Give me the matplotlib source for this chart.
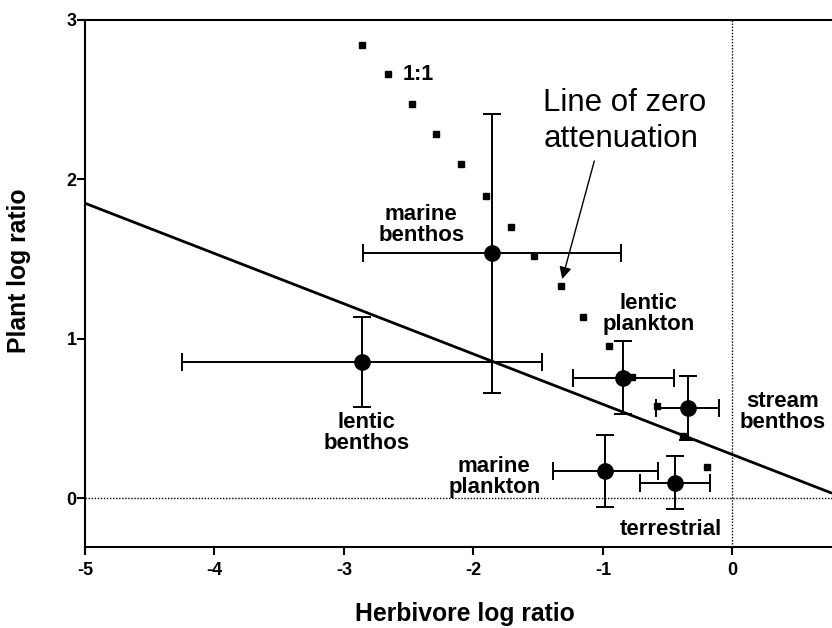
import matplotlib
matplotlib.use("Agg")
import matplotlib.pyplot as plt

plt.rcParams['font.family'] = ['Liberation Sans', 'DejaVu Sans']

# Group means and error half-widths (log ratios)
groups = ['marine\nbenthos', 'lentic\nbenthos', 'lentic\nplankton',
          'stream\nbenthos', 'marine\nplankton', 'terrestrial']
herb_mean = [-1.856, -2.859, -0.844, -0.346, -0.981, -0.443]
herb_err = [0.996, 1.389, 0.390, 0.246, 0.404, 0.273]
plant_mean = [1.536, 0.853, 0.756, 0.566, 0.169, 0.096]
plant_err = [0.875, 0.284, 0.231, 0.202, 0.227, 0.167]

# Group label anchor positions (data coordinates)
label_x = [-2.403, -2.828, -0.649, 0.386, -1.839, -0.471]
label_y = [1.713, 0.408, 1.155, 0.540, 0.132, -0.200]

# Dotted 1:1 reference
one_x = [-2.859, -2.658, -2.473, -2.287, -2.094, -1.901, -1.708, -1.530,
         -1.321, -1.151, -0.951, -0.773, -0.580, -0.379, -0.193]
one_y = [2.843, 2.661, 2.473, 2.285, 2.096, 1.895, 1.701, 1.519,
         1.331, 1.136, 0.954, 0.759, 0.577, 0.389, 0.195]

# Fitted line endpoints
fit_x = [-5.0, 0.77]
fit_y = [1.85, 0.03]

x_ticks = [-5, -4, -3, -2, -1, 0]
y_ticks = [0, 1, 2, 3]

fig = plt.figure(figsize=(8.32, 6.28), dpi=100)
ax = fig.add_axes([85 / 832, 81 / 628, 747 / 832, 527 / 628])
ax.set_xlim(-5, 0.77)
ax.set_ylim(-0.3075, 3)

# Zero reference lines
ax.axhline(0, color='black', lw=1.0, ls=(0, (1, 1.2)), zorder=1)
ax.axvline(0, color='black', lw=1.0, ls=(0, (1, 1.2)), zorder=1)

ax.plot(fit_x, fit_y, color='black', lw=2.0, solid_capstyle='butt', zorder=2)

ax.errorbar(herb_mean, plant_mean, xerr=herb_err, yerr=plant_err,
            fmt='o', color='black', ms=11, elinewidth=1.4, capsize=6.2,
            capthick=1.4, zorder=3)

ax.plot(one_x, one_y, ls='none', marker='s', ms=4.2, color='black', zorder=4)
ax.text(-2.550, 2.655, '1:1', fontsize=15.5, fontweight='bold',
        ha='left', va='center')

for name, lx, ly in zip(groups, label_x, label_y):
    ax.text(lx, ly, name, fontsize=16, fontweight='bold', ha='center',
            va='center', linespacing=1.0, zorder=5)

ax.text(-1.461, 2.366, 'Line of zero\nattenuation', fontsize=22.5,
        ha='left', va='center', linespacing=1.22)
ax.annotate('', xy=(-1.314, 1.374), xytext=(-1.066, 2.115),
            arrowprops=dict(arrowstyle='-|>', color='black', lw=1.0,
                            mutation_scale=18, shrinkA=0, shrinkB=0))

for side in ['left', 'bottom', 'top']:
    ax.spines[side].set_linewidth(1.5)
ax.spines['right'].set_visible(False)

ax.set_xticks(x_ticks)
ax.set_yticks(y_ticks)
ax.set_xticklabels([str(v) for v in x_ticks], fontsize=13, fontweight='bold')
ax.set_yticklabels([str(v) for v in y_ticks], fontsize=13, fontweight='bold')
ax.tick_params(axis='both', direction='out', length=5.5, width=1.5)
ax.tick_params(axis='x', pad=5.5)
ax.tick_params(axis='y', pad=0.5)

fig.text(465 / 832, 7 / 628, 'Herbivore log ratio', fontsize=17.8,
         fontweight='bold', ha='center', va='baseline')
fig.text(19.5 / 832, 1 - 270.5 / 628, 'Plant log ratio', fontsize=17.8,
         fontweight='bold', ha='center', va='center', rotation=90)

fig.savefig('out.png', dpi=100, facecolor='white')
